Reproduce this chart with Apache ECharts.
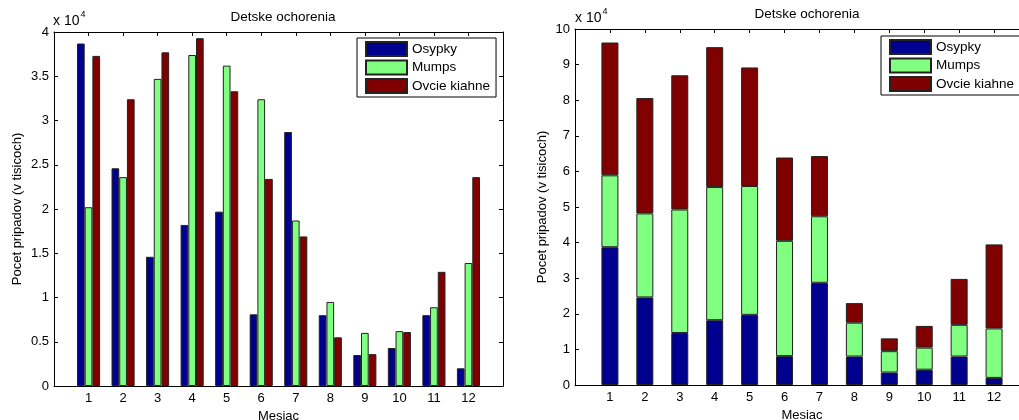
<!DOCTYPE html>
<html>
<head>
<meta charset="utf-8">
<script src="https://cdn.jsdelivr.net/npm/echarts@6/dist/echarts.min.js"></script>
<style>
  html, body { margin: 0; padding: 0; background: #fff; }
  #chart { width: 1019px; height: 420px; }
</style>
</head>
<body>
<div id="chart"></div>
<script>
// mesiace 1..12, hodnoty su pocty pripadov
const months = ['1', '2', '3', '4', '5', '6', '7', '8', '9', '10', '11', '12'];
const osypky = [38700, 24600, 14600, 18200, 19700, 8100, 28700, 8000, 3500, 4300, 8000, 2000];
const mumps = [20200, 23600, 34700, 37400, 36200, 32400, 18700, 9500, 6000, 6200, 8900, 13900];
const ovcie = [37300, 32400, 37700, 39300, 33300, 23400, 16900, 5500, 3600, 6100, 12900, 23600];
const names = ['Osypky', 'Mumps', 'Ovcie kiahne'];
const colors = ['#00008f', '#80ff80', '#800000'];
const leftTicks = [0, 5000, 10000, 15000, 20000, 25000, 30000, 35000, 40000];
const rightTicks = [0, 10000, 20000, 30000, 40000, 50000, 60000, 70000, 80000, 90000, 100000];

const font = 'Liberation Sans, Arial, Helvetica, sans-serif';
const values = [osypky, mumps, ovcie];

// os ma okraj 0 a 13 ako v matlabe, preto prazdne kategorie na krajoch
const axisCats = [''].concat(months, ['']);
function padded(arr) {
  return [null].concat(arr, [null]);
}

function xAx(grid, pos, labels, name) {
  return {
    type: 'category', gridIndex: grid, position: pos,
    data: axisCats, boundaryGap: false,
    name: name, nameLocation: 'middle', nameGap: 17,
    nameTextStyle: { fontFamily: font, fontSize: 13, color: '#000' },
    axisLine: { show: true, onZero: false, lineStyle: { color: '#000', width: 1 } },
    axisTick: { show: true, inside: true, length: 4, interval: 0, lineStyle: { color: '#000' } },
    axisLabel: {
      show: labels, margin: 6, interval: 0, hideOverlap: false,
      fontFamily: font, fontSize: 13, color: '#000'
    },
    splitLine: { show: false }
  };
}

function yAx(grid, pos, labels, max, step, name, gap) {
  return {
    type: 'value', gridIndex: grid, position: pos,
    min: 0, max: max, interval: step,
    name: name, nameLocation: 'middle', nameGap: gap,
    nameTextStyle: { fontFamily: font, fontSize: 13, color: '#000' },
    axisLine: { show: true, onZero: false, lineStyle: { color: '#000', width: 1 } },
    axisTick: { show: true, inside: true, length: 4, lineStyle: { color: '#000' } },
    axisLabel: {
      show: labels, margin: 5, hideOverlap: false,
      fontFamily: font, fontSize: 13, color: '#000',
      formatter: v => String(v / 10000)
    },
    splitLine: { show: false }
  };
}

const series = [];
// zoskupene stlpce vlavo
values.forEach((arr, k) => {
  series.push({
    name: names[k], type: 'bar', xAxisIndex: 0, yAxisIndex: 0,
    data: padded(arr), barWidth: 7.7, barGap: '0%',
    itemStyle: { color: colors[k], borderColor: '#222', borderWidth: 1 },
    emphasis: { disabled: true }
  });
});
// naskladane stlpce vpravo
values.forEach((arr, k) => {
  series.push({
    name: names[k], type: 'bar', xAxisIndex: 2, yAxisIndex: 2,
    stack: 'spolu', data: padded(arr), barWidth: 17,
    itemStyle: { color: colors[k], borderColor: '#222', borderWidth: 1 },
    emphasis: { disabled: true }
  });
});

function legend(left, top) {
  return {
    data: names, orient: 'vertical', left: left, top: top,
    icon: 'rect', itemWidth: 41, itemHeight: 14, itemGap: 2.5,
    padding: [3, 6, 3, 8],
    backgroundColor: '#fff', borderColor: '#000', borderWidth: 1, borderRadius: 0,
    selectedMode: false,
    textStyle: { fontFamily: font, fontSize: 13.5, color: '#000' }
  };
}

const chart = echarts.init(document.getElementById('chart'), null, { renderer: 'canvas' });
chart.setOption({
  animation: false,
  backgroundColor: '#fff',
  grid: [
    { left: 54, top: 32, width: 449, height: 354, outerBoundsMode: 'none' },
    { left: 575, top: 29, width: 454, height: 356, outerBoundsMode: 'none' }
  ],
  title: [
    { text: 'Detske ochorenia', left: 278, top: 5, textAlign: 'center',
      textStyle: { fontFamily: font, fontSize: 13.5, fontWeight: 'normal', color: '#000' } },
    { text: 'Detske ochorenia', left: 802, top: 2, textAlign: 'center',
      textStyle: { fontFamily: font, fontSize: 13.5, fontWeight: 'normal', color: '#000' } }
  ],
  legend: [legend(357, 38), legend(881, 36)],
  xAxis: [
    xAx(0, 'bottom', true, 'Mesiac'),
    xAx(0, 'top', false, ''),
    xAx(1, 'bottom', true, 'Mesiac'),
    xAx(1, 'top', false, '')
  ],
  yAxis: [
    yAx(0, 'left', true, leftTicks[leftTicks.length - 1], leftTicks[1], 'Pocet pripadov (v tisicoch)', 30),
    yAx(0, 'right', false, leftTicks[leftTicks.length - 1], leftTicks[1], '', 30),
    yAx(1, 'left', true, rightTicks[rightTicks.length - 1], rightTicks[1], 'Pocet pripadov (v tisicoch)', 26),
    yAx(1, 'right', false, rightTicks[rightTicks.length - 1], rightTicks[1], '', 26)
  ],
  graphic: [
    { type: 'text', left: 53, top: 14, style: { text: 'x 10', fontFamily: font, fontSize: 14, fill: '#000' } },
    { type: 'text', left: 80.5, top: 10, style: { text: '4', fontFamily: font, fontSize: 9, fill: '#000' } },
    { type: 'text', left: 575, top: 11, style: { text: 'x 10', fontFamily: font, fontSize: 14, fill: '#000' } },
    { type: 'text', left: 602.5, top: 7, style: { text: '4', fontFamily: font, fontSize: 9, fill: '#000' } }
  ],
  series: series
});
</script>
</body>
</html>
